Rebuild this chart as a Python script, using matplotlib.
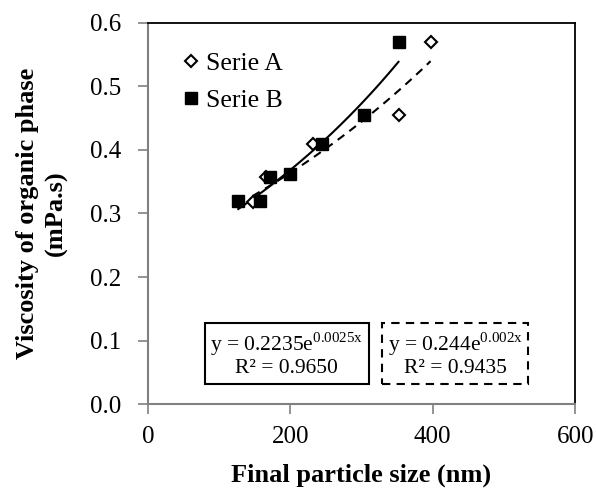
import numpy as np
import matplotlib
matplotlib.use('Agg')
import matplotlib.pyplot as plt

plt.rcParams['font.family'] = ['Liberation Serif', 'DejaVu Serif']
plt.rcParams['mathtext.fontset'] = 'custom'
plt.rcParams['mathtext.rm'] = 'Liberation Serif'

# data
size_a = [147, 166, 232, 352, 397]
visc_a = [0.318, 0.357, 0.409, 0.455, 0.570]
size_b = [127, 157, 172, 200, 245, 303, 352]
visc_b = [0.319, 0.319, 0.357, 0.362, 0.409, 0.455, 0.570]

# exponential trend lines y = a*exp(b*x)
fit_a = (0.244, 0.002)
fit_b = (0.2235, 0.0025)

fig = plt.figure(figsize=(5.96, 4.88), dpi=100)
ax = fig.add_axes([0.248, 0.172, 0.717, 0.781])

ax.plot(size_a, visc_a, linestyle='none', marker='D', markersize=6.5,
        markerfacecolor='white', markeredgecolor='black', markeredgewidth=1.5,
        label='Serie A', zorder=3)
ax.plot(size_b, visc_b, linestyle='none', marker='s', markersize=8,
        color='black', label='Serie B', zorder=4)

xa = np.linspace(min(size_a), max(size_a), 100)
ax.plot(xa, fit_a[0] * np.exp(fit_a[1] * xa), color='black', lw=1.5,
        linestyle=(0, (4, 3)), zorder=2)
xb = np.linspace(min(size_b), max(size_b), 100)
ax.plot(xb, fit_b[0] * np.exp(fit_b[1] * xb), color='black', lw=1.5, zorder=2)

ax.set_xlim(0, 600)
ax.set_ylim(0, 0.6)
ax.set_xticks([0, 200, 400, 600])
ax.set_yticks(np.arange(0, 0.61, 0.1))
ax.set_yticklabels(['%.1f' % v for v in np.arange(0, 0.61, 0.1)])
ax.tick_params(labelsize=18, direction='out', length=7, color='#808080', width=1.2)
ax.tick_params(axis='x', pad=9)
ax.tick_params(axis='y', pad=12)

for s in ['left', 'bottom']:
    ax.spines[s].set_color('#808080')
    ax.spines[s].set_linewidth(1.5)
for s in ['top', 'right']:
    ax.spines[s].set_color('black')
    ax.spines[s].set_linewidth(1.3)

ax.set_xlabel('Final particle size (nm)', fontsize=19, fontweight='bold', labelpad=11)
ax.set_ylabel('Viscosity of organic phase\n(mPa.s)', fontsize=19, fontweight='bold',
              linespacing=1.3, labelpad=16)

ax.legend(loc='upper left', bbox_to_anchor=(0.058, 0.95), frameon=False,
          fontsize=18.5, handlelength=0.6, handletextpad=0.3, labelspacing=0.55,
          borderaxespad=0)

ax.text(0.3255, 0.131, 'y = 0.2235e$^{\\mathregular{0.0025x}}$\nR² = 0.9650',
        transform=ax.transAxes, ha='center', va='center', fontsize=15.5,
        multialignment='center', linespacing=1.1,
        bbox=dict(boxstyle='square,pad=0.25', facecolor='white',
                  edgecolor='black', lw=1.5))
ax.text(0.719, 0.131, 'y = 0.244e$^{\\mathregular{0.002x}}$\nR² = 0.9435',
        transform=ax.transAxes, ha='center', va='center', fontsize=15.5,
        multialignment='center', linespacing=1.1,
        bbox=dict(boxstyle='square,pad=0.25', facecolor='white',
                  edgecolor='black', lw=1.5, linestyle=(0, (4, 3))))

fig.savefig('out.png', dpi=100)
